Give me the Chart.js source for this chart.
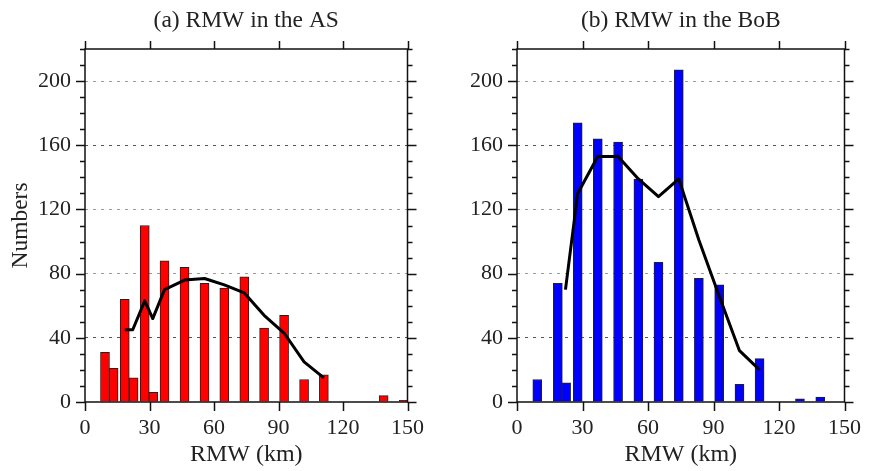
<!DOCTYPE html>
<html>
<head>
<meta charset="utf-8">
<script src="https://cdn.jsdelivr.net/npm/chart.js@4/dist/chart.umd.min.js"></script>
<style>
  html, body { margin: 0; padding: 0; background: #fff; }
  #wrap { position: relative; width: 874px; height: 471px; }
  canvas { position: absolute; top: 0; }
</style>
</head>
<body>
<div id="wrap">
  <canvas id="cA" width="437" height="471" style="left:0px"></canvas>
  <canvas id="cB" width="437" height="471" style="left:437px"></canvas>
</div>
<script>
// ---- Data (RMW bins in km, counts) ----
const titleA = "(a) RMW in the AS";
const titleB = "(b) RMW in the BoB";
const xTitle = "RMW (km)";
const yTitle = "Numbers";

const binsA   = [9.3, 13.3, 18.5, 22.6, 27.8, 31.8, 37.0, 46.3, 55.6, 64.8, 74.1, 83.3, 92.6, 101.9, 111.1, 138.9, 148.2];
const countsA = [31, 21, 64, 15, 110, 6, 88, 84, 74, 71, 78, 46, 54, 14, 17, 4, 1];
const lineXA  = [18.5, 22.2, 27.8, 31.5, 37.0, 46.3, 55.6, 64.8, 74.1, 83.3, 92.6, 101.9, 111.1];
const lineYA  = [45, 45, 63, 52, 70, 76, 77, 73, 68, 54, 43, 25, 15];

const binsB   = [9.3, 18.7, 22.5, 27.8, 37.0, 46.3, 55.6, 64.8, 74.1, 83.3, 92.6, 101.9, 111.1, 129.6, 138.9];
const countsB = [14, 74, 12, 174, 164, 162, 139, 87, 207, 77, 73, 11, 27, 2, 3];
const lineXB  = [22.2, 27.8, 37.0, 46.3, 55.6, 64.8, 74.1, 83.3, 92.6, 101.9, 111.1];
const lineYB  = [70, 130, 153, 153, 139, 128, 139, 101, 66, 32, 20];

const xTicks = [0, 30, 60, 90, 120, 150];
const yTicks = [0, 40, 80, 120, 160, 200];

const FONT = "'Liberation Serif', 'DejaVu Serif', serif";

const framePlugin = {
  id: 'frame',
  afterDatasetsDraw(chart) {
    const { ctx, chartArea: a, scales: { x, y } } = chart;
    ctx.save();
    ctx.strokeStyle = '#111';
    ctx.lineWidth = 1.5;
    ctx.strokeRect(a.left, a.top, a.right - a.left, a.bottom - a.top);
    ctx.beginPath();
    for (let v = y.min; v <= y.max; v += 10) {
      const p = Math.round(y.getPixelForValue(v)) + 0.5;
      const len = yTicks.includes(v) ? 9 : 5;
      ctx.moveTo(a.left - len, p); ctx.lineTo(a.left, p);
      ctx.moveTo(a.right, p); ctx.lineTo(a.right + len, p);
    }
    for (const v of xTicks) {
      const p = Math.round(x.getPixelForValue(v)) + 0.5;
      ctx.moveTo(p, a.bottom); ctx.lineTo(p, a.bottom + 9);
      ctx.moveTo(p, a.top); ctx.lineTo(p, a.top - 8);
    }
    ctx.stroke();
    ctx.restore();
  }
};

function makeChart(id, title, bins, counts, lx, ly, color, yWidth, padRight, showYTitle) {
  const barData = counts.map((v, i) => ({ x: bins[i], y: v }));
  const lineData = ly.map((v, i) => ({ x: lx[i], y: v }));
  return new Chart(document.getElementById(id), {
    type: 'bar',
    data: {
      datasets: [
        {
          type: 'line', data: lineData, borderColor: '#000', borderWidth: 3,
          pointRadius: 0, tension: 0, order: 0, borderJoinStyle: 'round', borderCapStyle: 'butt'
        },
        {
          type: 'bar', data: barData, backgroundColor: color, borderColor: '#222',
          borderWidth: 1, barThickness: 9, order: 1
        }
      ]
    },
    options: {
      responsive: false,
      animation: false,
      devicePixelRatio: 1,
      layout: { padding: { left: 0, right: padRight, top: 0, bottom: 0 } },
      plugins: {
        legend: { display: false },
        tooltip: { enabled: false },
        title: { display: false }
      },
      scales: {
        x: {
          type: 'linear', min: 0, max: 150, offset: false,
          afterBuildTicks: (s) => { s.ticks = xTicks.map(v => ({ value: v })); },
          afterFit: (s) => { s.height = 69; },
          grid: { display: false, drawTicks: false },
          border: { display: false },
          ticks: { color: '#222', padding: 13, maxRotation: 0, font: { family: FONT, size: 22 } },
          title: { display: true, text: xTitle, color: '#222', padding: 2, font: { family: FONT, size: 24 } }
        },
        xTop: {
          type: 'linear', position: 'top', min: 0, max: 150, offset: false,
          afterFit: (s) => { s.height = 49; },
          grid: { display: false, drawTicks: false },
          border: { display: false },
          ticks: { display: false },
          title: { display: true, text: title, color: '#222', padding: 7,
                   font: { family: FONT, size: 23.5, lineHeight: 1.2 } }
        },
        y: {
          type: 'linear', min: 0, max: 220,
          afterBuildTicks: (s) => { s.ticks = yTicks.map(v => ({ value: v })); },
          afterFit: (s) => { s.width = yWidth; },
          grid: {
            drawTicks: false, lineWidth: 1,
            color: (c) => {
              const v = c.tick ? c.tick.value : 0;
              if (v === 0) return 'rgba(0,0,0,0)';
              return (v === 160 || v === 40) ? '#555' : '#9a9a9a';
            }
          },
          border: { display: false, dash: [3, 5] },
          ticks: { color: '#222', padding: 14, font: { family: FONT, size: 22 } },
          title: { display: showYTitle, text: yTitle, color: '#222', padding: 7, font: { family: FONT, size: 23.5 } }
        }
      }
    },
    plugins: [framePlugin]
  });
}

makeChart('cA', titleA, binsA, countsA, lineXA, lineYA, '#ff0000', 85, 13, true);
makeChart('cB', titleB, binsB, countsB, lineXB, lineYB, '#0000ff', 80, 18, false);
</script>
</body>
</html>
